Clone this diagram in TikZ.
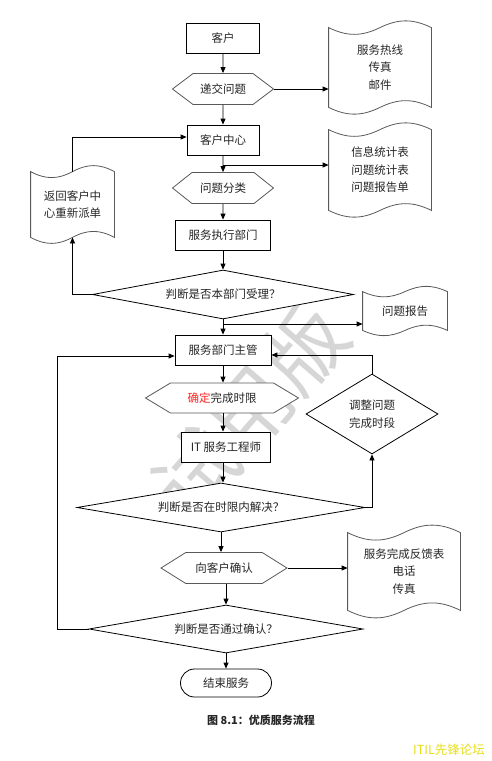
\documentclass[tikz,border=0pt]{standalone}
\usepackage{fontspec}
\usepackage{tikz}
\usetikzlibrary{positioning,calc,arrows.meta,shapes.geometric,shapes.symbols}
\newfontfamily\cjk{Noto Sans CJK SC}

\newcommand{\tapeframe}[2]{%
  \draw[black!65, line width=0.8pt] (#1.north west)
    .. controls ($(#1.north west)!0.18!(#1.north east)+(0,#2)$) and ($(#1.north west)!0.32!(#1.north east)+(0,#2)$) .. (#1.north)
    .. controls ($(#1.north west)!0.68!(#1.north east)+(0,-#2)$) and ($(#1.north west)!0.82!(#1.north east)+(0,-#2)$) .. (#1.north east)
    -- (#1.south east)
    .. controls ($(#1.south west)!0.82!(#1.south east)+(0,-#2)$) and ($(#1.south west)!0.68!(#1.south east)+(0,-#2)$) .. (#1.south)
    .. controls ($(#1.south west)!0.32!(#1.south east)+(0,#2)$) and ($(#1.south west)!0.18!(#1.south east)+(0,#2)$) .. (#1.south west)
    -- cycle;}

\begin{document}
\begin{tikzpicture}[x=1pt, y=-1pt, line width=0.8pt,
	every node/.style={font=\cjk\fontsize{11.5}{17.5}\selectfont, text=black!85, align=center, inner sep=0pt},
	blk/.style={draw, fill=white, minimum height=30pt},
	hx/.style={draw=black!65, fill=white, shape=signal, signal to=west and east, signal pointer angle=#1, minimum height=31pt},
	dm/.style={draw, fill=white, diamond, aspect=4},
	tp/.style={minimum width=#1},
	arr/.style={-{Triangle[length=6pt,width=5pt]}}]
	\useasboundingbox (0,0) rectangle (492,761);
	\node[rotate=49, text=black!16, font=\cjk\fontsize{82}{82}\selectfont] (wm) at (250,410) {试用版};
	\node[blk, minimum width=73pt] (khu) at (223,38) {客户};
	\node[hx=74, minimum width=101pt] (dj) at (223,89) {递交问题};
	\node[tp=102pt, minimum height=79pt] (docA) at (380,67.5) {服务热线\\传真\\邮件};
	\node[blk, minimum width=72pt] (kfzx) at (223,140) {客户中心};
	\node[tp=102pt, minimum height=80pt] (docB) at (380,170) {信息统计表\\问题统计表\\问题报告单};
	\node[hx=77, minimum width=101pt] (wtfl) at (223,188) {问题分类};
	\node[tp=83pt, minimum height=65pt] (docR) at (72.5,204.5) {返回客户中\\心重新派单};
	\node[blk, minimum width=95pt] (fwzx) at (223,235) {服务执行部门};
	\node[dm, minimum width=261pt, minimum height=49pt] (pd1) at (223,294.5) {判断是否本部门受理？};
	\node[tp=84pt, minimum height=38pt] (docW) at (405,311) {问题报告};
	\node[blk, minimum width=96pt] (zg) at (223,350) {服务部门主管};
	\node[hx=62, minimum width=153pt, minimum height=30pt] (qdsx) at (222,398) {\textcolor{red!85}{确定}完成时限};
	\node[dm, aspect=1.6, minimum width=132pt, minimum height=80pt] (tz) at (372,414) {调整问题\\完成时段};
	\node[blk, minimum width=89pt] (gcs) at (226,447) {IT 服务工程师};
	\node[dm, minimum width=288pt, minimum height=49pt] (pd2) at (221,507.5) {判断是否在时限内解决？};
	\node[hx=64, minimum width=126pt] (ask) at (224,568) {向客户确认};
	\node[tp=112pt, minimum height=77pt] (docF) at (404,571.5) {服务完成反馈表\\电话\\传真};
	\node[dm, minimum width=274pt, minimum height=48pt] (pd3) at (226,629) {判断是否通过确认？};
	\node[draw, fill=white, rounded corners=14pt, minimum width=91pt, minimum height=28pt] (fin) at (226,683) {结束服务};
	\node[font=\cjk\bfseries\fontsize{11}{13}\selectfont] (cap) at (261,720) {图 8.1：优质服务流程};
	\node[text=yellow!90!black, font=\cjk\fontsize{12.5}{14}\selectfont] (itil) at (449,750) {ITIL先锋论坛};
	\tapeframe{docA}{9}
	\tapeframe{docB}{9}
	\tapeframe{docR}{8}
	\tapeframe{docW}{7}
	\tapeframe{docF}{10}
	\coordinate (b1) at (223,165);
	\coordinate (b2) at (223,324);
	\coordinate (back) at (57,356);
	\draw[arr] (khu) -- (dj);
	\draw[arr] (dj.east) -- (dj.east -| docA.west);
	\draw[arr] (dj) -- (kfzx);
	\draw[arr] (kfzx) -- (wtfl);
	\draw[arr] (b1) -- (b1 -| docB.west);
	\draw[arr] (wtfl) -- (fwzx);
	\draw[arr] (fwzx) -- (pd1);
	\draw[arr] (pd1.west) -| (docR.south);
	\draw[arr] (docR.north) |- ([yshift=3pt]kfzx.west);
	\draw[arr] (pd1.south) -- (pd1.south |- zg.north);
	\draw[arr] (b2) -- (b2 -| docW.west);
	\draw[arr] (zg) -- (zg |- qdsx.north);
	\draw[arr] (zg.south |- qdsx.south) -- (zg.south |- gcs.north);
	\draw[arr] (gcs.south -| zg.south) -- (zg.south |- pd2.north);
	\draw[arr] (pd2.east) -| (tz.south);
	\draw[arr] (tz.north) |- ([yshift=-5pt]zg.east);
	\draw[arr] (pd2.south) -- (pd2.south |- ask.north);
	\draw[arr] (ask.east) -- (ask.east -| docF.west);
	\draw[arr] (ask.south -| pd3.north) -- (pd3.north);
	\draw[arr] (pd3.west) -| (back) -- ([yshift=-6pt]zg.west);
	\draw[arr] (pd3) -- (fin);
\end{tikzpicture}
\end{document}
